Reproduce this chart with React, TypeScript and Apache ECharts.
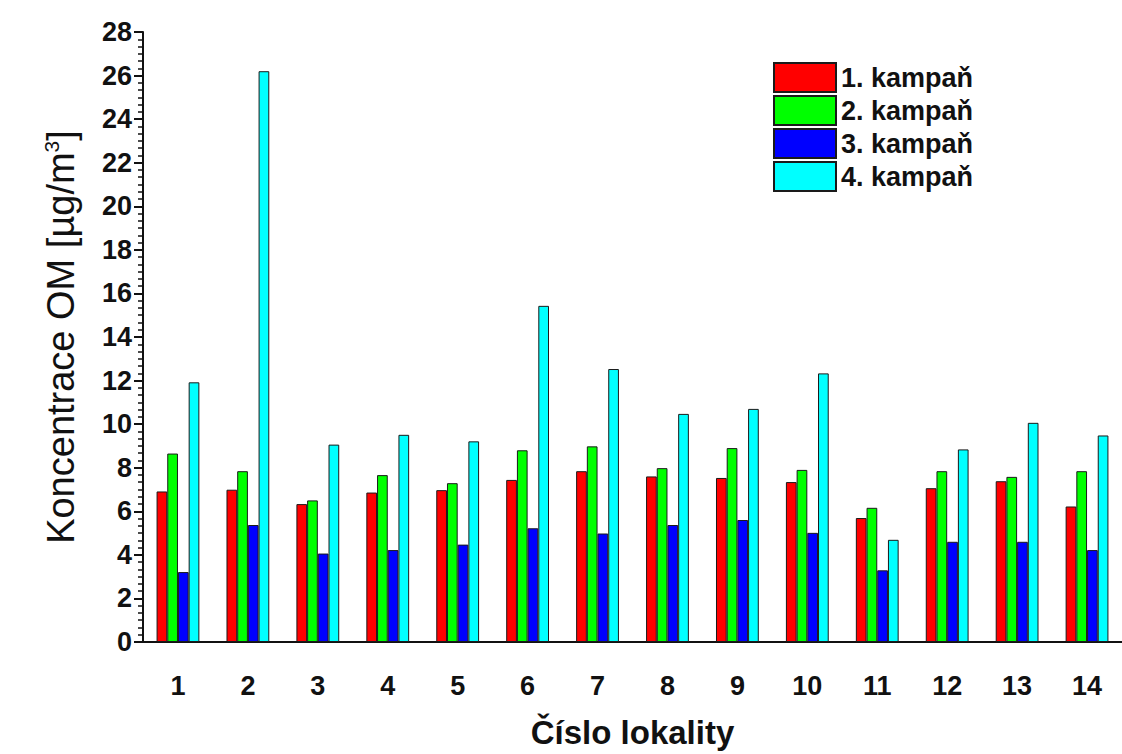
import React, { useEffect, useRef } from "react";
import * as echarts from "echarts";

const categories = ["1", "2", "3", "4", "5", "6", "7", "8", "9", "10", "11", "12", "13", "14"];
const seriesNames = ["1. kampaň", "2. kampaň", "3. kampaň", "4. kampaň"];
const campaign1 = [6.91, 6.99, 6.33, 6.86, 6.97, 7.44, 7.84, 7.6, 7.53, 7.34, 5.69, 7.06, 7.38, 6.22];
const campaign2 = [8.65, 7.84, 6.5, 7.66, 7.29, 8.8, 8.98, 7.98, 8.9, 7.9, 6.16, 7.84, 7.58, 7.84];
const campaign3 = [3.21, 5.37, 4.06, 4.22, 4.47, 5.22, 4.98, 5.37, 5.6, 5.01, 3.29, 4.6, 4.6, 4.22];
const campaign4 = [11.92, 26.2, 9.06, 9.51, 9.21, 15.43, 12.53, 10.47, 10.7, 12.33, 4.69, 8.84, 10.06, 9.48];
const colors = ["#ff0000", "#00ff00", "#0000ff", "#00ffff"];

const FONT = "'Liberation Sans', Arial, sans-serif";

export default function App() {
  const ref = useRef<HTMLDivElement>(null);
  useEffect(() => {
    document.body.style.margin = "0";
    const chart = echarts.init(ref.current!, null, { renderer: "svg" });
    const data = [campaign1, campaign2, campaign3, campaign4];
    chart.setOption({
      animation: false,
      backgroundColor: "#ffffff",
      grid: { left: 143, right: 0, top: 32, bottom: 109 },
      legend: {
        orient: "vertical",
        left: 768,
        top: 57,
        itemWidth: 62,
        itemHeight: 29,
        itemGap: 2,
        icon: "rect",
        textStyle: { fontFamily: FONT, fontWeight: "bold", fontSize: 27, color: "#111" },
        data: seriesNames,
      },
      xAxis: {
        type: "category",
        data: categories,
        name: "Číslo lokality",
        nameLocation: "middle",
        nameGap: 74,
        nameTextStyle: { fontFamily: FONT, fontWeight: "bold", fontSize: 33, color: "#111" },
        axisLine: { lineStyle: { color: "#111", width: 2 } },
        axisTick: { alignWithLabel: true, length: 9, lineStyle: { color: "#111", width: 2 } },
        axisLabel: { fontFamily: FONT, fontWeight: "bold", fontSize: 27, color: "#111", margin: 30 },
        splitLine: { show: false },
      },
      yAxis: {
        type: "value",
        min: 0,
        max: 28,
        interval: 2,
        name: "Koncentrace OM [µg/m{sup|3}]",
        nameLocation: "middle",
        nameGap: 62,
        nameRotate: 90,
        nameTextStyle: {
          fontFamily: FONT,
          fontSize: 38,
          color: "#111",
          rich: {
            sup: { fontFamily: FONT, fontSize: 21, color: "#111", verticalAlign: "top", padding: [0, 0, 19, 0] },
          },
        },
        axisLine: { show: true, lineStyle: { color: "#111", width: 2 } },
        axisTick: { show: true, inside: false, length: 9, lineStyle: { color: "#111", width: 2 } },
        minorTick: { show: true, splitNumber: 6, length: 5, lineStyle: { color: "#111", width: 1.5 } },
        axisLabel: { fontFamily: FONT, fontWeight: "bold", fontSize: 27, color: "#111", margin: 11 },
        splitLine: { show: false },
      },
      series: seriesNames.map((name, i) => ({
        name,
        type: "bar",
        data: data[i],
        barWidth: 10.7,
        barGap: "0%",
        itemStyle: { color: colors[i], borderColor: "#1a1a1a", borderWidth: 1 },
      })),
    });
    return () => chart.dispose();
  }, []);
  return <div ref={ref} style={{ width: 1122, height: 754 }} />;
}
